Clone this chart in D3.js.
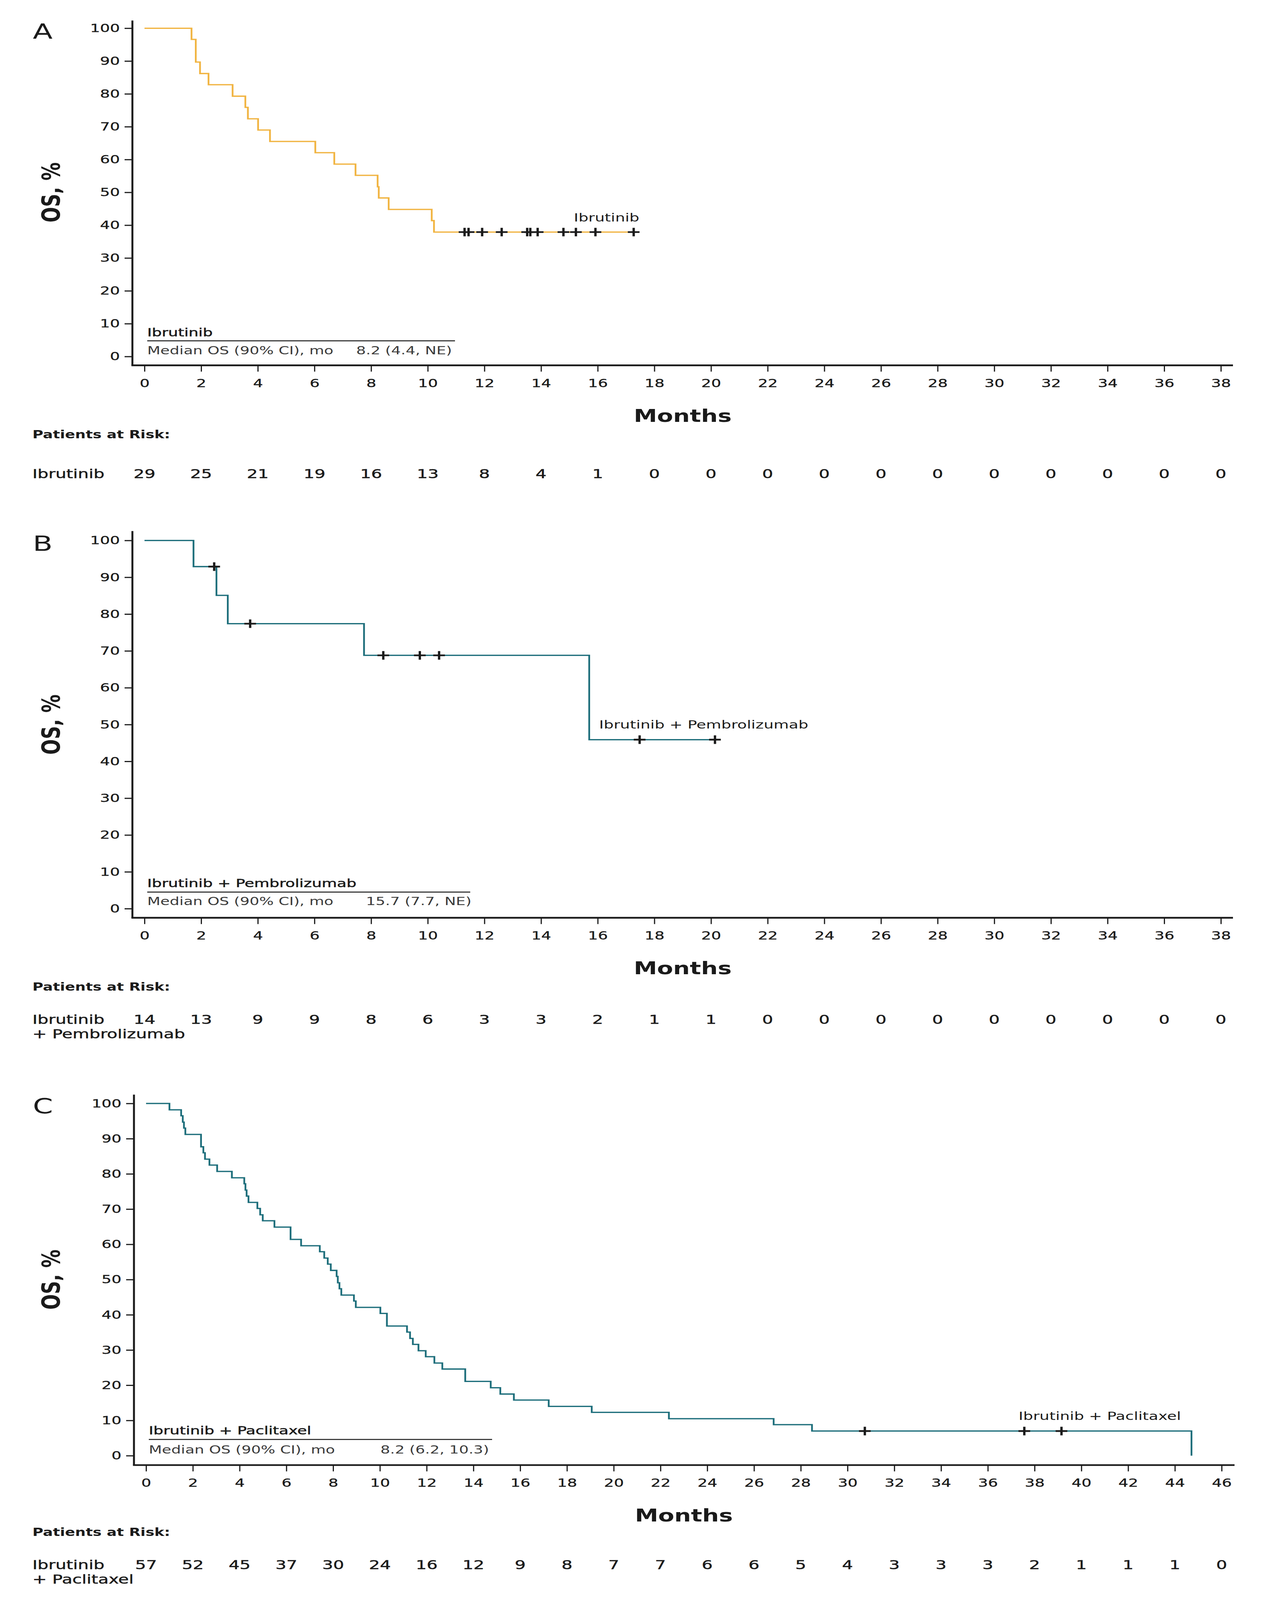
<!DOCTYPE html>
<html><head><meta charset="utf-8">
<script src="https://cdn.jsdelivr.net/npm/d3@7"></script>
<style>html,body{margin:0;padding:0;background:#fff;overflow:hidden}svg{display:block;width:100vw;height:100vh}</style>
</head><body>
<svg id="chart" viewBox="0 0 3239 5610" preserveAspectRatio="none"></svg>
<script>
// ---------------- DATA ----------------
const osTicks = [0, 10, 20, 30, 40, 50, 60, 70, 80, 90, 100];
const monthTicksAB = [0, 2, 4, 6, 8, 10, 12, 14, 16, 18, 20, 22, 24, 26, 28, 30, 32, 34, 36, 38];
const monthTicksC = [0, 2, 4, 6, 8, 10, 12, 14, 16, 18, 20, 22, 24, 26, 28, 30, 32, 34, 36, 38, 40, 42, 44, 46];

// Panel A: Ibrutinib
const ibrTimes = [0, 1.66, 1.81, 1.96, 2.26, 3.11, 3.56, 3.65, 4.01, 4.43, 6.03, 6.70, 7.45, 8.23, 8.27, 8.62, 10.14, 10.22, 17.28];
const ibrOS    = [100, 96.6, 89.7, 86.2, 82.8, 79.3, 75.9, 72.4, 69.0, 65.5, 62.1, 58.6, 55.2, 51.7, 48.3, 44.8, 41.4, 37.9, 37.9];
const ibrCensor = [11.30, 11.44, 11.92, 12.61, 13.51, 13.62, 13.88, 14.79, 15.23, 15.92, 17.27];
const ibrAtRisk = [29, 25, 21, 19, 16, 13, 8, 4, 1, 0, 0, 0, 0, 0, 0, 0, 0, 0, 0, 0];

// Panel B: Ibrutinib + Pembrolizumab
const pemTimes = [0, 1.73, 2.54, 2.94, 7.75, 15.70, 20.20];
const pemOS    = [100, 92.9, 85.1, 77.4, 68.8, 45.9, 45.9];
const pemCensor = [2.46, 3.73, 8.43, 9.72, 10.40, 17.48, 20.14];
const pemAtRisk = [14, 13, 9, 9, 8, 6, 3, 3, 2, 1, 1, 0, 0, 0, 0, 0, 0, 0, 0, 0];

// Panel C: Ibrutinib + Paclitaxel
const pacTimes = [0, 1.00, 1.50, 1.57, 1.62, 1.68, 2.35, 2.45, 2.52, 2.71, 3.04, 3.67, 4.20, 4.25, 4.30, 4.38,
  4.76, 4.88, 4.99, 5.49, 6.18, 6.63, 7.43, 7.62, 7.77, 7.90, 8.15, 8.20, 8.27, 8.35, 8.89, 8.97,
  10.02, 10.30, 11.16, 11.29, 11.41, 11.65, 11.96, 12.33, 12.67, 13.65, 14.74, 15.15, 15.73, 17.22,
  19.06, 22.36, 26.84, 28.48, 44.71];
const pacOS = [100, 98.2, 96.5, 94.7, 93.0, 91.2, 87.7, 86.0, 84.2, 82.5, 80.7, 78.9, 77.2, 75.4, 73.7, 71.9,
  70.2, 68.4, 66.7, 64.9, 61.4, 59.6, 57.9, 56.1, 54.4, 52.6, 50.9, 49.1, 47.4, 45.6, 43.9, 42.1,
  40.4, 36.8, 35.1, 33.3, 31.6, 29.8, 28.1, 26.3, 24.6, 21.1, 19.3, 17.5, 15.8, 14.0,
  12.3, 10.5, 8.8, 7.0, 0];
const pacCensor = [30.74, 37.56, 39.15];
const pacAtRisk = [57, 52, 45, 37, 30, 24, 16, 12, 9, 8, 7, 7, 6, 6, 5, 4, 3, 3, 3, 2, 1, 1, 1, 0];

const panelLetters = ["A", "B", "C"];
const armNames = ["Ibrutinib", "Ibrutinib + Pembrolizumab", "Ibrutinib + Paclitaxel"];
const riskLabels = [["Ibrutinib"], ["Ibrutinib", "+ Pembrolizumab"], ["Ibrutinib", "+ Paclitaxel"]];
const medianLabel = "Median OS (90% CI), mo";
const medianValues = ["8.2 (4.4, NE)", "15.7 (7.7, NE)", "8.2 (6.2, 10.3)"];
const yTitle = "OS, %";
const xTitle = "Months";
const riskTitle = "Patients at Risk:";

// ---------------- LAYOUT ----------------
const FONT = "'DejaVu Sans', sans-serif";
const INK = "#1a1a1a";
const ORANGE = "#F1B441";
const TEAL = "#1D6E7B";

const layouts = [
  {x0: 370, x1: 3126, xMax: 38, axisX: 339, yTop: 72, y100: 99, y0: 1250, axisY: 1281, xEnd: 3157,
   letterY: 136, legTitleDy: -71, legLineDy: -55, legMedDy: -8, legLineEnd: 1165, legValX: 912,
   curveLabel: {x: 1637, y: 777, anchor: "end"}, riskTitleDy: 256, riskRowDy: 396, color: ORANGE},
  {x0: 370, x1: 3126, xMax: 38, axisX: 339, yTop: 1862, y100: 1895, y0: 3186, axisY: 3218, xEnd: 3157,
   letterY: 1931, legTitleDy: -76, legLineDy: -58, legMedDy: -13, legLineEnd: 1204, legValX: 937,
   curveLabel: {x: 1534, y: 2554, anchor: "start"}, riskTitleDy: 255, riskRowDy: 372, color: TEAL},
  {x0: 374, x1: 3128, xMax: 46, axisX: 343, yTop: 3838, y100: 3869, y0: 5104, axisY: 5137, xEnd: 3161,
   letterY: 3904, legTitleDy: -75, legLineDy: -57, legMedDy: -8, legLineEnd: 1260, legValX: 974,
   curveLabel: {x: 2608, y: 4978, anchor: "start"}, riskTitleDy: 248, riskRowDy: 365, color: TEAL}
];

const series = [
  {times: ibrTimes, os: ibrOS, censor: ibrCensor, risk: ibrAtRisk, ticks: monthTicksAB},
  {times: pemTimes, os: pemOS, censor: pemCensor, risk: pemAtRisk, ticks: monthTicksAB},
  {times: pacTimes, os: pacOS, censor: pacCensor, risk: pacAtRisk, ticks: monthTicksC}
];

const svg = d3.select("#chart").style("font-family", FONT);
svg.append("rect").attr("width", 3239).attr("height", 5610).attr("fill", "#fff");

function survAt(s, t) {
  const i = d3.bisectRight(s.times, t) - 1;
  return s.os[Math.max(0, i)];
}

series.forEach((s, k) => {
  const L = layouts[k];
  const x = d3.scaleLinear().domain([0, L.xMax]).range([L.x0, L.x1]);
  const y = d3.scaleLinear().domain([0, 100]).range([L.y0, L.y100]);
  const g = svg.append("g");

  // panel letter
  g.append("text").attr("x", 84).attr("y", L.letterY).attr("font-size", 74).attr("fill", INK)
    .text(panelLetters[k]);

  // y axis
  const yAx = g.append("g").attr("transform", `translate(${L.axisX},0)`)
    .call(d3.axisLeft(y).tickValues(osTicks).tickSize(20).tickPadding(12).tickFormat(d3.format("d")));
  yAx.select(".domain").remove();
  yAx.selectAll(".tick line").attr("stroke", INK).attr("stroke-width", 4);
  yAx.selectAll(".tick text").attr("font-size", 40).attr("fill", INK).attr("font-family", FONT)
    .attr("stroke", INK).attr("stroke-width", 0.6);
  g.append("line").attr("x1", L.axisX).attr("x2", L.axisX).attr("y1", L.yTop).attr("y2", L.axisY)
    .attr("stroke", INK).attr("stroke-width", 5);

  // x axis
  const xAx = g.append("g").attr("transform", `translate(0,${L.axisY})`)
    .call(d3.axisBottom(x).tickValues(s.ticks).tickSize(22).tickPadding(26).tickFormat(d3.format("d")));
  xAx.select(".domain").remove();
  xAx.selectAll(".tick line").attr("stroke", INK).attr("stroke-width", 3);
  xAx.selectAll(".tick text").attr("font-size", 40).attr("fill", INK).attr("font-family", FONT)
    .attr("stroke", INK).attr("stroke-width", 0.6);
  g.append("line").attr("x1", L.axisX - 2.5).attr("x2", L.xEnd).attr("y1", L.axisY).attr("y2", L.axisY)
    .attr("stroke", INK).attr("stroke-width", 6);

  // axis titles
  g.append("text").attr("transform", `translate(131,${(L.y0 + L.y100) / 2}) rotate(-90)`)
    .attr("text-anchor", "middle").attr("dominant-baseline", "central")
    .attr("font-size", 64).attr("font-weight", "bold").attr("fill", INK).text(yTitle);
  g.append("text").attr("x", (L.x0 + L.x1) / 2).attr("y", L.axisY + 198).attr("text-anchor", "middle")
    .attr("font-size", 60).attr("font-weight", "bold").attr("fill", INK).text(xTitle);

  // KM curve
  const pts = s.times.map((t, i) => [t, s.os[i]]);
  const line = d3.line().x(d => x(d[0])).y(d => y(d[1])).curve(d3.curveStepAfter);
  g.append("path").attr("d", line(pts)).attr("fill", "none").attr("stroke", L.color)
    .attr("stroke-width", 4.5).attr("stroke-linejoin", "miter");

  // censor marks
  g.selectAll(".cen").data(s.censor).join("path")
    .attr("transform", t => `translate(${x(t)},${y(survAt(s, t))})`)
    .attr("d", "M-15,0H15M0,-15V15").attr("stroke", INK).attr("stroke-width", 6).attr("fill", "none");

  // curve label
  g.append("text").attr("x", L.curveLabel.x).attr("y", L.curveLabel.y).attr("text-anchor", L.curveLabel.anchor)
    .attr("font-size", 40).attr("fill", INK).text(armNames[k]);

  // legend box
  const lx = L.x0 + 7;
  g.append("text").attr("x", lx).attr("y", L.y0 + L.legTitleDy).attr("font-size", 40).attr("fill", INK)
    .attr("stroke", INK).attr("stroke-width", 0.9).text(armNames[k]);
  g.append("line").attr("x1", lx).attr("x2", L.legLineEnd).attr("y1", L.y0 + L.legLineDy).attr("y2", L.y0 + L.legLineDy)
    .attr("stroke", INK).attr("stroke-width", 3.5);
  g.append("text").attr("x", lx).attr("y", L.y0 + L.legMedDy).attr("font-size", 39).attr("fill", "#3a3a3a")
    .text(medianLabel);
  g.append("text").attr("x", L.legValX).attr("y", L.y0 + L.legMedDy).attr("font-size", 39).attr("fill", "#3a3a3a")
    .text(medianValues[k]);

  // risk table
  g.append("text").attr("x", 83).attr("y", L.axisY + L.riskTitleDy).attr("font-size", 38).attr("font-weight", "bold")
    .attr("fill", INK).text(riskTitle);
  riskLabels[k].forEach((lab, j) => {
    g.append("text").attr("x", 83).attr("y", L.axisY + L.riskRowDy + j * 50).attr("font-size", 44)
      .attr("fill", INK).attr("stroke", INK).attr("stroke-width", 0.8).text(lab);
  });
  g.selectAll(".risk").data(s.risk).join("text")
    .attr("x", (d, i) => x(s.ticks[i])).attr("y", L.axisY + L.riskRowDy)
    .attr("text-anchor", "middle").attr("font-size", 44).attr("fill", INK)
    .attr("stroke", INK).attr("stroke-width", 0.8).text(d => d);
});
</script>
</body></html>
